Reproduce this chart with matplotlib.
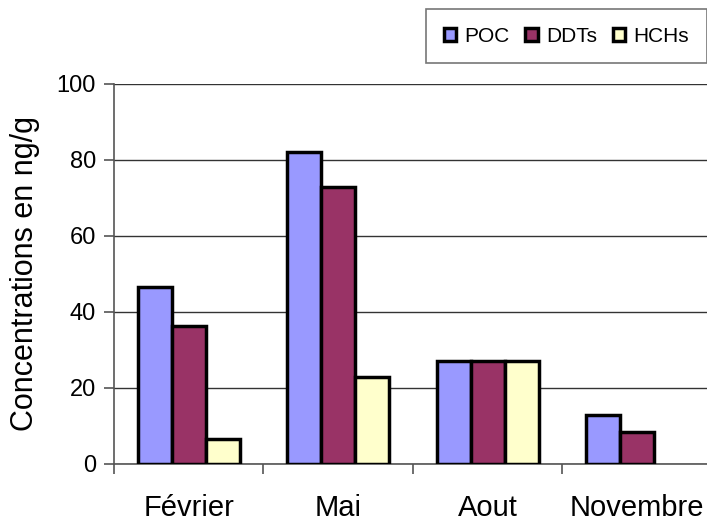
import numpy as np
import matplotlib
matplotlib.use("Agg")
import matplotlib.pyplot as plt

plt.rcParams['font.family'] = ['Liberation Sans Narrow', 'Liberation Sans', 'DejaVu Sans']

mois = ["Février", "Mai", "Aout", "Novembre"]
poc = [46.5, 82, 27, 12.7]
ddts = [36.2, 72.8, 27, 8.3]
hchs = [6.6, 22.8, 27, 0]
series = ["POC", "DDTs", "HCHs"]
couleurs = ["#9999FF", "#993366", "#FFFFCC"]

fig = plt.figure(figsize=(7.07, 5.28), dpi=100)
ax = fig.add_axes([0.161, 0.122, 0.846, 0.719])

x = np.arange(len(mois))
w = 0.227
for i, (vals, nom, c) in enumerate(zip([poc, ddts, hchs], series, couleurs)):
    v = np.array(vals, dtype=float)
    keep = v > 0
    ax.bar(x[keep] + (i - 1) * w, v[keep], w, color=c, edgecolor="black",
           linewidth=2.5, label=nom, zorder=3)

ax.set_xlim(-0.5, 3.5)
ax.set_ylim(0, 100)
ax.set_yticks(range(0, 101, 20))
ax.yaxis.grid(True, color="#333333", linewidth=1, zorder=0)
ax.set_xticks(np.arange(-0.5, 4, 1))
ax.set_xticklabels([])
ax.set_xticks(x, minor=True)
ax.set_xticklabels(mois, minor=True, fontsize=21)
ax.tick_params(axis="x", which="minor", length=0, pad=22)
ax.tick_params(axis="x", which="major", length=7, color="#555555", width=1.2)
ax.tick_params(axis="y", length=7, color="#555555", width=1.2, labelsize=17, pad=6)

for s in ["top", "right"]:
    ax.spines[s].set_visible(False)
ax.spines["left"].set_color("#555555")
ax.spines["bottom"].set_color("#555555")
ax.spines["left"].set_linewidth(1.2)
ax.spines["bottom"].set_linewidth(1.2)

ax.set_ylabel("Concentrations en ng/g", fontsize=22, labelpad=12)

leg = fig.legend(loc="upper right", bbox_to_anchor=(1.0, 0.983), ncol=3,
                 fontsize=15, handlelength=0.6, handleheight=0.6,
                 handletextpad=0.4, columnspacing=0.75, fancybox=False,
                 borderpad=0.85, borderaxespad=0)
leg.get_frame().set_edgecolor("#555555")
leg.get_frame().set_linewidth(1.2)

fig.savefig("out.png", dpi=100)
